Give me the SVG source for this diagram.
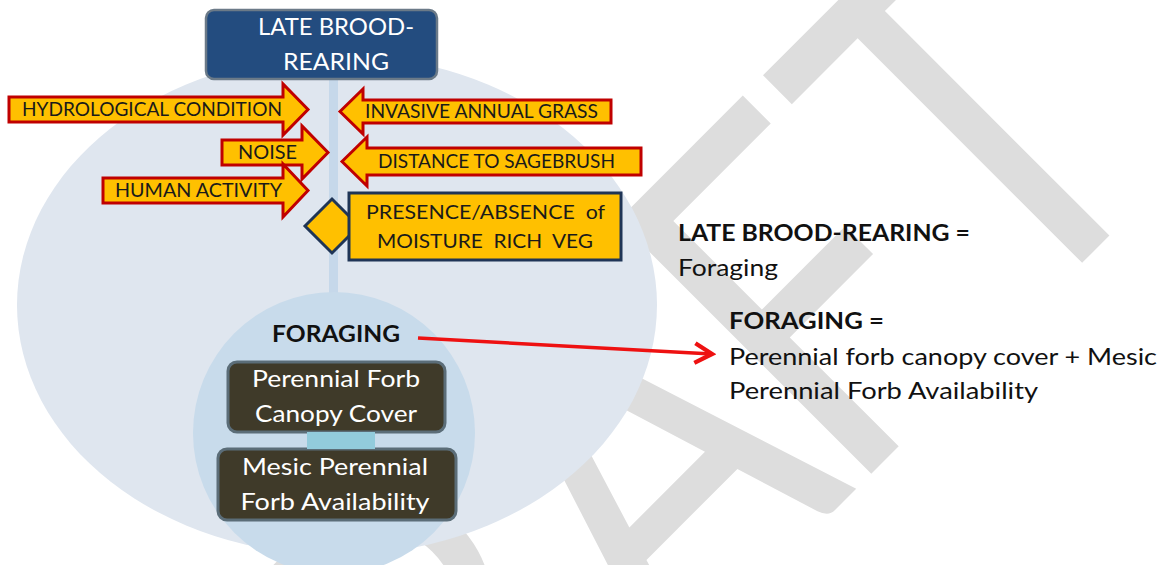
<svg xmlns="http://www.w3.org/2000/svg" width="1163" height="565" viewBox="0 0 1163 565">
  <defs>
    <style>
      .lbl { font-family: Lato, "Open Sans", sans-serif; }
      .cause path { fill: #ffc000; stroke: #c00000; stroke-width: 3; stroke-linejoin: miter; }
      .cause text { font-family: Lato, "Open Sans", sans-serif; font-size: 18.5px; fill: #1a1a1a; }
      .gate { fill: #ffc000; stroke: #1f3556; stroke-width: 3; }
      .gate-text { font-family: Lato, "Open Sans", sans-serif; font-size: 19.5px; fill: #1a1a1a; white-space: pre; }
      .attr rect { fill: #3f3a29; stroke: #5b6d78; stroke-width: 3; }
      .attr text { font-family: Lato, "Open Sans", sans-serif; font-size: 23px; fill: #ffffff; text-anchor: middle; }
      .note { font-family: Lato, "Open Sans", sans-serif; font-size: 23px; fill: #111111; }
      .bold { font-weight: 700; }
      .mark { font-family: Lato, "Open Sans", sans-serif; font-size: 500px; fill: #dddddd; text-anchor: middle; }
    </style>
    <marker id="chev" viewBox="0 0 20 20" refX="17" refY="10" markerWidth="7" markerHeight="7" markerUnits="strokeWidth" orient="auto">
      <path d="M3,2 L17,10 L3,18" fill="none" stroke="#ee1111" stroke-width="3.5"/>
    </marker>
  </defs>

  <rect width="1163" height="565" fill="#ffffff"/>

  <!-- watermark, laid out on a baseline at 45 degrees -->
  <g id="watermark" transform="translate(672.5 672.5) rotate(-45) scale(0.8 1)">
    <text class="mark" y="0"><tspan x="-520">D</tspan><tspan x="-180">R</tspan><tspan x="157">A</tspan><tspan x="447">F</tspan><tspan x="748">T</tspan></text>
  </g>

  <!-- habitat area -->
  <g id="habitat">
    <ellipse cx="337" cy="305" rx="320" ry="250" fill="#dfe6ef"/>
    <rect x="329" y="78" width="9" height="220" fill="#c6d8ea"/>
    <circle cx="334" cy="433" r="141" fill="#c8dbeb"/>
  </g>

  <!-- season header -->
  <g id="season">
    <rect x="206" y="10" width="231" height="69" rx="8" fill="#234c7f" stroke="#6b7a88" stroke-width="2.5"/>
    <text class="lbl" x="336" y="35" font-size="24" fill="#ffffff" text-anchor="middle" textLength="156" lengthAdjust="spacingAndGlyphs">LATE BROOD-</text>
    <text class="lbl" x="336" y="70" font-size="24" fill="#ffffff" text-anchor="middle" textLength="106" lengthAdjust="spacingAndGlyphs">REARING</text>
  </g>

  <!-- influencing factors -->
  <g id="hydrological" class="cause">
    <path d="M9,97 H283 V84 L308,109.5 L283,135 V122 H9 Z"/>
    <text x="22" y="116" textLength="260" lengthAdjust="spacingAndGlyphs">HYDROLOGICAL CONDITION</text>
  </g>
  <g id="noise" class="cause">
    <path d="M222,140 H302 V126 L328,152.5 L302,179 V165 H222 Z"/>
    <text x="238" y="159" textLength="59" lengthAdjust="spacingAndGlyphs">NOISE</text>
  </g>
  <g id="human-activity" class="cause">
    <path d="M103,178 H283 V164 L308,190.5 L283,217 V203 H103 Z"/>
    <text x="115" y="197" textLength="167" lengthAdjust="spacingAndGlyphs">HUMAN ACTIVITY</text>
  </g>
  <g id="invasive-grass" class="cause">
    <path d="M340,111.5 L363,89 V100 H611 V123 H363 V134 Z"/>
    <text x="365" y="118" textLength="233" lengthAdjust="spacingAndGlyphs">INVASIVE ANNUAL GRASS</text>
  </g>
  <g id="sagebrush-distance" class="cause">
    <path d="M342,161.5 L367,137 V148 H641 V175 H367 V186 Z"/>
    <text x="378" y="168" textLength="237" lengthAdjust="spacingAndGlyphs">DISTANCE TO SAGEBRUSH</text>
  </g>

  <!-- moisture gate -->
  <g id="moisture">
    <path class="gate" d="M305,226 L332,199 L359,226 L332,253 Z"/>
    <rect class="gate" x="349" y="193" width="272" height="67"/>
    <text class="gate-text" x="485.5" y="219" text-anchor="middle" textLength="239" lengthAdjust="spacingAndGlyphs">PRESENCE/ABSENCE  of</text>
    <text class="gate-text" x="485" y="248" text-anchor="middle" textLength="216" lengthAdjust="spacingAndGlyphs">MOISTURE  RICH  VEG</text>
  </g>

  <!-- foraging -->
  <g id="foraging">
    <text class="lbl bold" x="336" y="342" font-size="22.5" fill="#111111" text-anchor="middle" textLength="128" lengthAdjust="spacingAndGlyphs">FORAGING</text>
  </g>
  <g id="forb-cover" class="attr">
    <rect x="228" y="362" width="217" height="70" rx="9"/>
    <text x="336" y="387" textLength="168" lengthAdjust="spacingAndGlyphs">Perennial Forb</text>
    <text x="336" y="422" textLength="162" lengthAdjust="spacingAndGlyphs">Canopy Cover</text>
  </g>
  <g id="forb-availability" class="attr">
    <rect x="218" y="449" width="238" height="71" rx="9"/>
    <text x="335" y="475" textLength="186" lengthAdjust="spacingAndGlyphs">Mesic Perennial</text>
    <text x="335" y="510" textLength="189" lengthAdjust="spacingAndGlyphs">Forb Availability</text>
  </g>

  <!-- connectors -->
  <g id="connectors">
    <rect x="307" y="432" width="68" height="17" fill="#92cbdc"/>
    <line x1="418" y1="338" x2="712" y2="354" stroke="#ee1111" stroke-width="3.5" marker-end="url(#chev)"/>
  </g>

  <!-- definitions -->
  <g id="definitions">
    <text class="note bold" x="678" y="241" textLength="292" lengthAdjust="spacingAndGlyphs">LATE BROOD-REARING =</text>
    <text class="note" x="678" y="276" textLength="100" lengthAdjust="spacingAndGlyphs">Foraging</text>
    <text class="note bold" x="729" y="329" textLength="155" lengthAdjust="spacingAndGlyphs">FORAGING =</text>
    <text class="note" x="729" y="365" textLength="428" lengthAdjust="spacingAndGlyphs">Perennial forb canopy cover + Mesic</text>
    <text class="note" x="729" y="399" textLength="309" lengthAdjust="spacingAndGlyphs">Perennial Forb Availability</text>
  </g>
</svg>
